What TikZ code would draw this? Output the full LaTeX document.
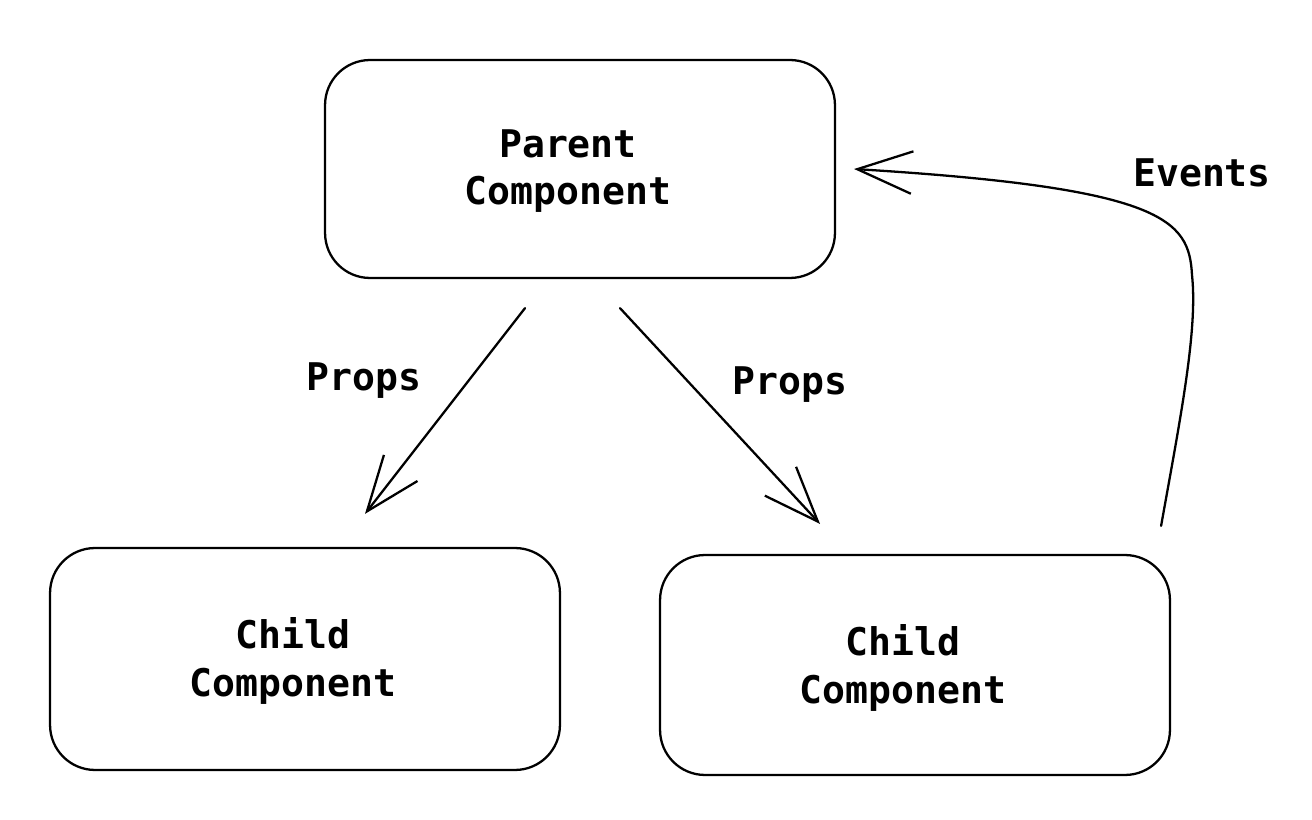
\documentclass[tikz,border=0pt]{standalone}
\usepackage{fontspec}
\newfontfamily\codefont{DejaVu Sans Mono}
\usetikzlibrary{arrows.meta, calc}

\tikzset{
  comp/.style={draw, line width=1.3pt, rounded corners=0.9cm,
    minimum width=10.2cm, minimum height=4.4cm, inner sep=0pt},
  comptext/.style={align=center, inner sep=0pt,
    font=\codefont\bfseries\fontsize{21.7}{27.2}\selectfont},
  flow/.style={line width=1.3pt, line cap=round,
    -{Straight Barb[length=1.1cm, width=0.85cm, line width=1.3pt]}},
  flowlabel/.style={anchor=base, inner sep=0pt,
    font=\codefont\bfseries\fontsize{21.7}{27.2}\selectfont}
}

\begin{document}
\begin{tikzpicture}[x=0.02cm, y=-0.02cm]

      \useasboundingbox (0,0) rectangle (1312,820);

      \node[comp, minimum height=4.36cm] (parent) at (580,169) {};
      \node[comp, minimum height=4.44cm] (childL) at (305,659) {};
      \node[comp] (childR) at (915,665) {};

      \node[comptext] (parenttext) at ($(parent.center)+(-12,2)$) {Parent\\Component};
      \node[comptext] (childLtext) at ($(childL.center)+(-12,2)$) {Child\\Component};
      \node[comptext] (childRtext) at ($(childR.center)+(-12,3)$) {Child\\Component};

      \draw[flow] ($(parent.south)+(-55,29)$) -- ($(childL.north)+(60,-33)$);
      \draw[flow] ($(parent.south)+(40,29)$) -- ($(childR.north)+(-95,-30)$);
      \draw[flow] ($(childR.north east)+(-10,-28)$)
          .. controls (1180,420) and (1198,330) .. (1192,275)
          .. controls (1189,220) and (1165,188) .. ($(parent.east)+(18,0)$);

      \node[flowlabel] (propsL) at (364,391) {Props};
      \node[flowlabel] (propsR) at (790,395) {Props};
      \node[flowlabel] (events) at (1202,187) {Events};

    \end{tikzpicture}
\end{document}
